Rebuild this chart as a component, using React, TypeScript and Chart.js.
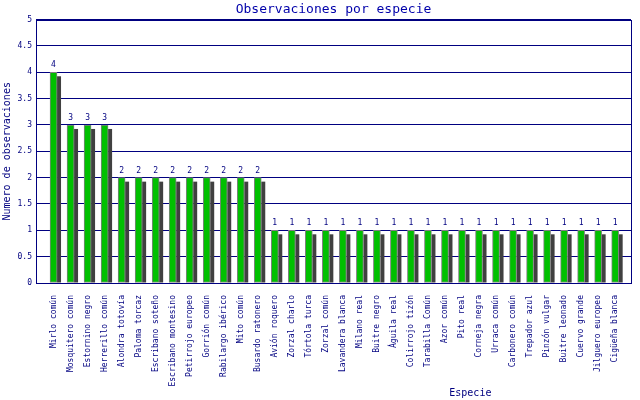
import React, { useEffect, useRef } from "react";
import { Chart, registerables } from "chart.js";

Chart.register(...registerables);

const species: string[] = [
  "Mirlo común", "Mosquitero común", "Estornino negro", "Herrerillo común",
  "Alondra totovía", "Paloma torcaz", "Escribano soteño", "Escribano montesino",
  "Petirrojo europeo", "Gorrión común", "Rabilargo ibérico", "Mito común",
  "Busardo ratonero", "Avión roquero", "Zorzal charlo", "Tórtola turca",
  "Zorzal común", "Lavandera blanca", "Milano real", "Buitre negro",
  "Águila real", "Colirrojo tizón", "Tarabilla Común", "Azor común",
  "Pito real", "Corneja negra", "Urraca común", "Carbonero común",
  "Trepador azul", "Pinzón vulgar", "Buitre leonado", "Cuervo grande",
  "Jilguero europeo", "Cigüeña blanca",
];

const counts: number[] = [
  4, 3, 3, 3,
  2, 2, 2, 2, 2, 2, 2, 2, 2,
  1, 1, 1, 1, 1, 1, 1, 1, 1, 1, 1, 1, 1, 1, 1, 1, 1, 1, 1, 1, 1,
];

const yTicks: number[] = [0, 0.5, 1, 1.5, 2, 2.5, 3, 3.5, 4, 4.5, 5];

const TITLE = "Observaciones por especie";
const X_TITLE = "Especie";
const Y_TITLE = "Numero de observaciones";

const NAVY = "#000080";
const MONO = "'DejaVu Sans Mono', monospace";

const shadowPlugin = {
  id: "barShadow",
  beforeDatasetsDraw(chart: any) {
    const ctx = chart.ctx;
    const area = chart.chartArea;
    ctx.save();
    ctx.beginPath();
    ctx.rect(area.left, area.top, area.right - area.left, area.bottom - area.top);
    ctx.clip();
    ctx.fillStyle = "#404040";
    const meta = chart.getDatasetMeta(0);
    meta.data.forEach((bar: any) => {
      const p = bar.getProps(["x", "y", "base", "width"], true);
      const right = p.x + p.width / 2;
      ctx.fillRect(right, p.y + 4, 4, p.base - p.y - 4);
    });
    ctx.restore();
  },
};

const extrasPlugin = {
  id: "extras",
  afterDatasetsDraw(chart: any) {
    const ctx = chart.ctx;
    const area = chart.chartArea;
    ctx.save();
    ctx.strokeStyle = NAVY;
    ctx.lineWidth = 1;
    ctx.strokeRect(Math.round(area.left) + 0.5, Math.round(area.top) + 0.5,
      Math.round(area.right - area.left), Math.round(area.bottom - area.top));
    ctx.fillStyle = NAVY;
    ctx.font = `8px ${MONO}`;
    ctx.textAlign = "center";
    ctx.textBaseline = "bottom";
    const meta = chart.getDatasetMeta(0);
    meta.data.forEach((bar: any, i: number) => {
      ctx.fillText(String(counts[i]), bar.x, bar.y - 3);
    });
    ctx.font = `10px ${MONO}`;
    ctx.textBaseline = "middle";
    ctx.fillText(X_TITLE, area.left + (area.right - area.left) * 0.73, 393);
    ctx.restore();
  },
};

export default function App() {
  const ref = useRef<HTMLCanvasElement | null>(null);
  useEffect(() => {
    document.body.style.margin = "0";
    const canvas = ref.current;
    if (!canvas) return;
    const chart = new Chart(canvas, {
      type: "bar",
      data: {
        datasets: [
          {
            data: counts.map((v, i) => ({ x: i, y: v })),
            backgroundColor: "#00c000",
            borderColor: "#808080",
            borderWidth: 1,
            borderSkipped: false,
            barThickness: 7,
          },
        ],
      },
      options: {
        animation: false,
        responsive: false,
        devicePixelRatio: 1,
        layout: { padding: { left: 0, right: 9, top: 0, bottom: 0 } },
        plugins: {
          legend: { display: false },
          tooltip: { enabled: false },
          title: {
            display: true,
            text: TITLE,
            color: "#0000aa",
            fullSize: false,
            font: { family: MONO, size: 13, weight: "normal", lineHeight: 1.2 },
            padding: { top: 2, bottom: 2 },
          },
        },
        scales: {
          x: {
            type: "linear",
            offset: false,
            min: -1.03,
            max: 33.93,
            grid: { display: false },
            border: { display: true, color: NAVY },
            afterBuildTicks: (axis: any) => {
              axis.ticks = species.map((_, i) => ({ value: i }));
            },
            afterFit: (scale: any) => {
              scale.height = 117;
            },
            ticks: {
              autoSkip: false,
              minRotation: 90,
              maxRotation: 90,
              padding: 4,
              color: NAVY,
              font: { family: MONO, size: 8 },
              callback: (v: any) => species[v] ?? "",
            },
          },
          y: {
            min: 0,
            max: 5,
            afterBuildTicks: (axis: any) => {
              axis.ticks = yTicks.map((v) => ({ value: v }));
            },
            afterFit: (scale: any) => {
              scale.width = 36;
            },
            grid: { color: NAVY, drawTicks: false, lineWidth: 1 },
            border: { display: true, color: NAVY },
            ticks: {
              padding: 4,
              color: NAVY,
              font: { family: MONO, size: 8 },
              callback: (v: any) => String(v),
            },
            title: {
              display: true,
              text: Y_TITLE,
              color: NAVY,
              font: { family: MONO, size: 10, lineHeight: 1.2 },
              padding: { top: 1, bottom: 1 },
            },
          },
        },
      },
      plugins: [shadowPlugin, extrasPlugin],
    } as any);
    return () => chart.destroy();
  }, []);
  return (
    <div style={{ position: "fixed", left: 0, top: 0, width: 640, height: 400, background: "#fff" }}>
      <canvas ref={ref} width={640} height={400} style={{ width: 640, height: 400 }} />
    </div>
  );
}
